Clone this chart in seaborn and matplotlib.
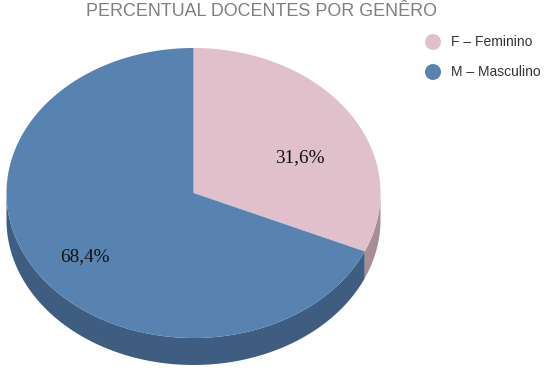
import numpy as np
import matplotlib
matplotlib.use("Agg")
import matplotlib.pyplot as plt
import seaborn as sns
from matplotlib.patches import Polygon, Circle

sns.set_theme(style="white")

categories = ["F – Feminino", "M – Masculino"]
values = [31.6, 68.4]
labels = ["31,6%", "68,4%"]
top_colors = ["#E0C1CB", "#5883B1"]
side_colors = ["#A98D95", "#3F5D80"]
title = "PERCENTUAL DOCENTES POR GENÊRO"

W, H = 550, 379
fig = plt.figure(figsize=(W / 100, H / 100), dpi=100)
ax = fig.add_axes([0, 0, 1, 1])
ax.set_xlim(0, W)
ax.set_ylim(H, 0)
ax.axis("off")

cx, cy, rx, ry, depth = 193.5, 193.0, 187.0, 145.0, 27.0


def pt(theta_deg):
    t = np.radians(theta_deg)
    return cx + rx * np.sin(t), cy - ry * np.cos(t)


total = sum(values)
start = 0.0
spans = []
for v in values:
    end = start + 360.0 * v / total
    spans.append((start, end))
    start = end

# sides (visible front, angles 90..270)
for (a0, a1), sc in zip(spans, side_colors):
    lo, hi = max(a0, 90), min(a1, 270)
    if hi <= lo:
        continue
    th = np.linspace(lo, hi, 200)
    xs, ys = pt(th)
    poly = np.vstack([np.column_stack([xs, ys]),
                      np.column_stack([xs[::-1], ys[::-1] + depth])])
    ax.add_patch(Polygon(poly, closed=True, facecolor=sc, edgecolor="none"))

# tops
for (a0, a1), tc in zip(spans, top_colors):
    th = np.linspace(a0, a1, 400)
    xs, ys = pt(th)
    poly = np.vstack([[cx, cy], np.column_stack([xs, ys])])
    ax.add_patch(Polygon(poly, closed=True, facecolor=tc, edgecolor="none"))

# labels
label_pos = [(300, 158), (85, 257)]
for (x, y), lab in zip(label_pos, labels):
    ax.text(x, y, lab, ha="center", va="center", fontsize=13.8,
            family="Liberation Serif", color="#111111")

# title
ax.text(262, 12, title, ha="center", va="center", fontsize=12.9,
        family="Liberation Sans", color="#7f7f7f")

# legend
leg_y = [42, 72]
for y, c, cat in zip(leg_y, top_colors, categories):
    ax.add_patch(Circle((433, y), 8, facecolor=c, edgecolor="none"))
    ax.text(451, y, cat, ha="left", va="center", fontsize=10,
            family="Liberation Sans", color="#333333")

fig.savefig("out.png", dpi=100)
